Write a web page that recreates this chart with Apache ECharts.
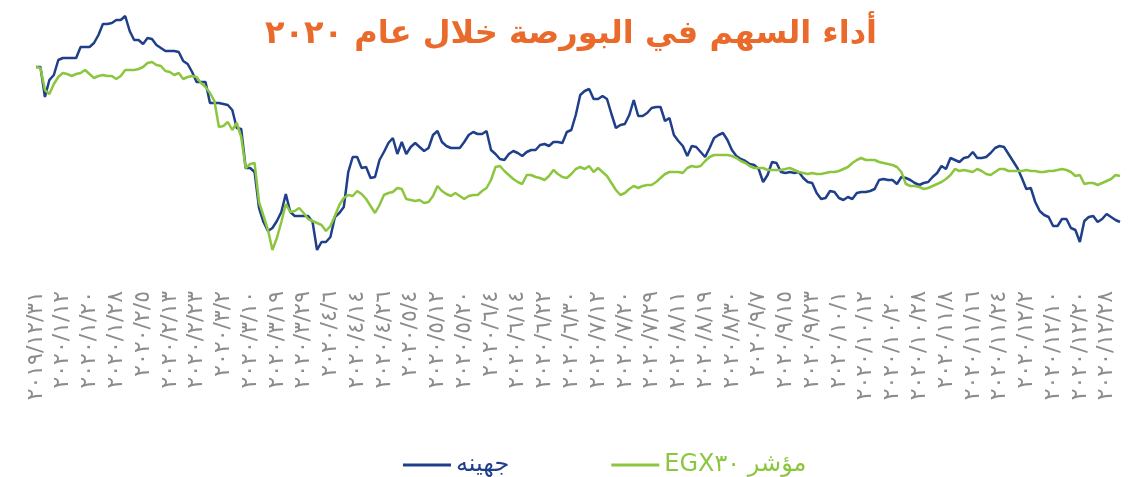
<!DOCTYPE html>
<html>
<head>
<meta charset="utf-8">
<script src="https://cdn.jsdelivr.net/npm/echarts@6.0.0/dist/echarts.min.js"></script>
<style>
  html, body { margin: 0; padding: 0; background: #fff; }
  #chart { width: 1142px; height: 477px; direction: rtl; }
</style>
</head>
<body>
<div id="chart"></div>
<script>
// performance index, start of period = 100
const juhayna = [
  100.0,100.0,94.0,97.4,98.4,101.4,101.8,101.8,101.8,101.8,
  104.0,104.0,104.0,104.8,106.4,108.6,108.6,108.8,109.4,109.4,
  110.2,107.2,105.4,105.4,104.6,105.8,105.6,104.4,103.8,103.2,
  103.2,103.2,103.0,101.2,100.6,99.0,97.0,97.0,97.0,92.8,
  92.8,92.8,92.6,92.4,91.4,87.8,87.6,79.8,79.8,79.0,
  71.8,69.0,67.2,67.8,69.2,71.0,74.6,71.0,70.2,70.2,
  70.2,70.2,69.0,63.4,65.0,65.0,66.0,70.0,70.8,72.0,
  79.0,82.0,82.0,79.8,80.0,77.8,78.0,81.4,83.0,84.8,
  85.8,82.6,85.0,82.6,84.0,84.8,84.0,83.2,83.8,86.4,
  87.2,85.0,84.2,83.8,83.8,83.8,85.0,86.4,87.0,86.6,
  86.6,87.2,83.4,82.6,81.6,81.4,82.6,83.2,82.8,82.2,
  83.0,83.4,83.4,84.4,84.6,84.2,85.0,85.0,84.8,87.0,
  87.4,90.4,94.4,95.2,95.6,93.6,93.6,94.2,93.6,90.6,
  87.8,88.4,88.6,90.4,93.4,90.2,90.2,90.8,91.8,92.0,
  92.0,89.2,89.8,86.4,85.2,84.2,82.2,84.2,84.0,83.0,
  82.0,83.8,85.8,86.4,86.8,85.4,83.4,82.2,81.6,81.2,
  80.6,80.4,79.6,77.0,78.4,81.0,80.8,79.0,78.8,79.0,
  78.8,79.0,77.8,77.0,76.8,74.8,73.6,73.8,75.2,75.0,
  73.8,73.4,74.0,73.6,74.8,75.0,75.0,75.2,75.6,77.4,
  77.6,77.4,77.4,76.6,78.0,77.8,77.4,76.8,76.4,76.8,
  77.0,78.0,78.8,80.2,79.6,81.8,81.4,81.0,81.8,82.0,
  83.0,81.8,81.8,82.0,82.8,83.8,84.2,84.0,82.6,81.2,
  79.8,77.8,75.6,75.8,73.0,71.2,70.4,70.0,68.2,68.2,
  69.6,69.6,67.8,67.4,65.0,69.2,70.0,70.2,69.0,69.6,
  70.6,70.0,69.4,69.0
];

const egx30 = [
  100.0,99.8,95.4,94.6,96.6,98.0,98.8,98.6,98.2,98.6,
  98.8,99.4,98.6,97.8,98.2,98.4,98.2,98.2,97.6,98.2,
  99.4,99.4,99.4,99.6,100.0,100.8,101.0,100.4,100.2,99.2,
  99.0,98.4,98.8,97.6,98.0,98.2,98.0,96.8,96.0,94.8,
  93.2,88.0,88.2,89.0,87.4,88.8,86.0,79.8,80.6,80.8,
  73.0,70.2,67.4,63.4,65.8,69.0,72.6,71.0,71.2,71.8,
  70.8,69.6,69.2,68.8,68.4,67.2,68.2,70.2,72.4,73.8,
  74.4,74.2,75.2,74.6,73.6,72.2,70.8,72.4,74.4,74.8,
  75.0,75.8,75.6,73.6,73.4,73.2,73.4,72.8,73.0,74.2,
  76.2,75.2,74.6,74.2,74.8,74.2,73.6,74.2,74.4,74.4,
  75.2,75.8,77.4,80.0,80.2,79.2,78.4,77.6,77.0,76.6,
  78.4,78.4,78.0,77.8,77.4,78.2,79.4,78.6,78.0,77.8,
  78.6,79.6,80.0,79.6,80.2,79.0,79.8,79.0,78.2,76.8,
  75.4,74.4,74.8,75.6,76.2,75.8,76.2,76.4,76.4,77.0,
  77.8,78.6,79.0,79.0,79.0,78.8,79.8,80.2,80.0,80.2,
  81.2,82.0,82.4,82.4,82.4,82.4,82.2,81.8,81.2,80.8,
  80.2,79.8,79.8,79.8,79.4,79.4,79.4,79.4,79.6,79.8,
  79.4,79.0,78.8,78.6,78.8,78.6,78.6,78.8,79.0,79.0,
  79.2,79.6,80.0,80.8,81.4,81.8,81.4,81.4,81.4,81.0,
  80.8,80.6,80.4,80.0,79.0,76.6,76.2,76.2,76.0,75.6,
  75.8,76.2,76.6,77.0,77.6,78.4,79.6,79.2,79.4,79.2,
  79.0,79.6,79.2,78.6,78.4,79.0,79.6,79.6,79.2,79.2,
  79.2,79.2,79.4,79.2,79.2,79.0,79.0,79.2,79.2,79.4,
  79.6,79.4,79.0,78.2,78.4,76.6,76.8,76.8,76.4,76.8,
  77.2,77.6,78.4,78.2
];

// one label every 6 trading days
const tickLabels = [
  '٢٠١٩/١٢/٣١','٢٠٢٠/١/١٢','٢٠٢٠/١/٢٠','٢٠٢٠/١/٢٨','٢٠٢٠/٢/٥','٢٠٢٠/٢/١٣','٢٠٢٠/٢/٢٣',
  '٢٠٢٠/٣/٢','٢٠٢٠/٣/١٠','٢٠٢٠/٣/١٩','٢٠٢٠/٣/٢٩','٢٠٢٠/٤/٦','٢٠٢٠/٤/١٤','٢٠٢٠/٤/٢٦',
  '٢٠٢٠/٥/٤','٢٠٢٠/٥/١٢','٢٠٢٠/٥/٢٠','٢٠٢٠/٦/٤','٢٠٢٠/٦/١٤','٢٠٢٠/٦/٢٢','٢٠٢٠/٦/٣٠',
  '٢٠٢٠/٧/١٢','٢٠٢٠/٧/٢٠','٢٠٢٠/٧/٢٩','٢٠٢٠/٨/١١','٢٠٢٠/٨/١٩','٢٠٢٠/٨/٣٠','٢٠٢٠/٩/٧',
  '٢٠٢٠/٩/١٥','٢٠٢٠/٩/٢٣','٢٠٢٠/١٠/١','٢٠٢٠/١٠/١٢','٢٠٢٠/١٠/٢٠','٢٠٢٠/١٠/٢٨','٢٠٢٠/١١/٨',
  '٢٠٢٠/١١/١٦','٢٠٢٠/١١/٢٤','٢٠٢٠/١٢/٢','٢٠٢٠/١٢/١٠','٢٠٢٠/١٢/٢٠','٢٠٢٠/١٢/٢٨'
];
const LABEL_STEP = 6;

const seriesNames = ['جهينه', 'مؤشر EGX٣٠'];
const seriesColors = ['#1f3f8a', '#8cc63f'];

const days = juhayna.map((_, i) => String(i));

const chart = echarts.init(document.getElementById('chart'), null, { renderer: 'canvas' });

chart.setOption({
  animation: false,
  backgroundColor: '#ffffff',
  textStyle: { fontFamily: 'DejaVu Sans' },
  title: {
    text: 'أداء السهم في البورصة خلال عام ٢٠٢٠',
    left: 'center',
    top: 14,
    textStyle: { color: '#ea6a2c', fontSize: 32, fontWeight: 'bold', fontFamily: 'DejaVu Sans' }
  },
  legend: {
    left: 398,
    top: 448,
    itemGap: 102,
    itemWidth: 48,
    itemHeight: 3,
    icon: 'rect',
    data: [
      { name: seriesNames[0], textStyle: { color: seriesColors[0] } },
      { name: seriesNames[1], textStyle: { color: seriesColors[1] } }
    ],
    textStyle: { fontSize: 24, fontFamily: 'DejaVu Sans' }
  },
  grid: { left: 36, right: 22, top: 2, bottom: 190, containLabel: false },
  xAxis: {
    type: 'category',
    boundaryGap: false,
    data: days,
    axisLine: { show: false },
    axisTick: { show: false },
    splitLine: { show: false },
    axisLabel: {
      interval: LABEL_STEP - 1,
      rotate: 90,
      margin: 4,
      color: '#8c8c8c',
      fontSize: 22,
      formatter: (v, i) => tickLabels[i / LABEL_STEP] || ''
    }
  },
  yAxis: {
    type: 'value',
    show: false,
    min: 56,
    max: 113,
    splitLine: { show: false }
  },
  series: [
    {
      name: seriesNames[0],
      type: 'line',
      data: juhayna,
      symbol: 'none',
      lineStyle: { width: 2.5, color: seriesColors[0] },
      itemStyle: { color: seriesColors[0] }
    },
    {
      name: seriesNames[1],
      type: 'line',
      data: egx30,
      symbol: 'none',
      lineStyle: { width: 2.5, color: seriesColors[1] },
      itemStyle: { color: seriesColors[1] }
    }
  ]
});
</script>
</body>
</html>
